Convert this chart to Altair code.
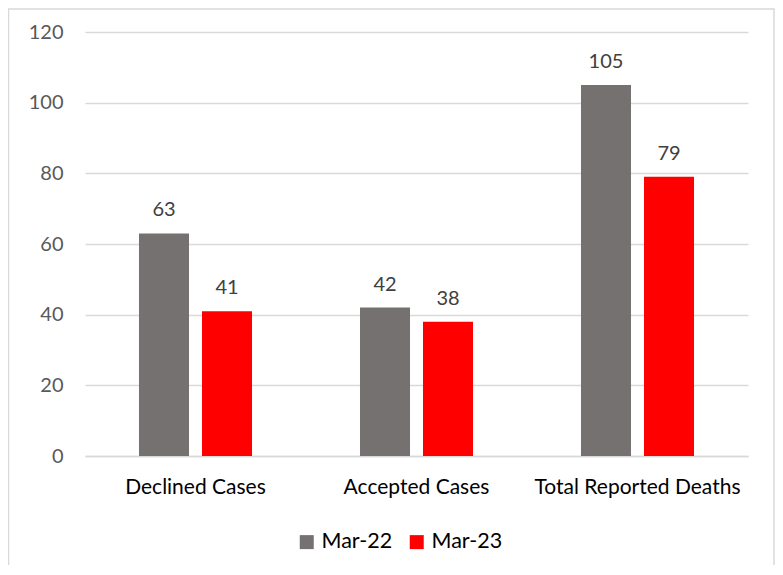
import altair as alt
import pandas as pd

categories = ["Declined Cases", "Accepted Cases", "Total Reported Deaths"]
series = ["Mar-22", "Mar-23"]
values_mar22 = [63, 42, 105]
values_mar23 = [41, 38, 79]
colors = ["#767171", "#FF0000"]

rows = []
for c, a, b in zip(categories, values_mar22, values_mar23):
    rows.append({"category": c, "series": series[0], "value": a})
    rows.append({"category": c, "series": series[1], "value": b})
df = pd.DataFrame(rows)

FONT = "Lato"

x = alt.X("category:N", sort=categories, title=None,
          scale=alt.Scale(paddingInner=0, paddingOuter=0),
          axis=alt.Axis(labelAngle=0, labelFontSize=21, labelColor="#000000",
                        labelFont=FONT, ticks=False, domainColor="#d9d9d9",
                        domainWidth=1.3, labelPadding=20, grid=False, labelLimit=0))
xo = alt.XOffset("series:N", sort=series,
                 scale=alt.Scale(paddingInner=0.206, paddingOuter=0.857))
y = alt.Y("value:Q", title=None,
          scale=alt.Scale(domain=[0, 120], nice=False),
          axis=alt.Axis(values=[0, 20, 40, 60, 80, 100, 120], labelFontSize=20,
                        labelColor="#595959", labelFont=FONT, ticks=False,
                        domain=False, gridColor="#d9d9d9", gridWidth=1.3,
                        labelPadding=22))

base = alt.Chart(df)

bars = base.mark_bar().encode(
    x=x, xOffset=xo, y=y,
    color=alt.Color("series:N", sort=series,
                    scale=alt.Scale(domain=series, range=colors),
                    legend=alt.Legend(title=None, orient="none", direction="horizontal",
                                      legendX=211, legendY=499, symbolType="square",
                                      symbolSize=196, symbolStrokeWidth=0,
                                      labelFontSize=21.5, labelFont=FONT,
                                      labelColor="#000000", columnPadding=13,
                                      padding=0, symbolOffset=0)),
)

labels = base.mark_text(baseline="alphabetic", dy=-17, fontSize=20,
                        font=FONT, color="#404040").encode(
    x=x, xOffset=xo, y=y, text="value:Q"
)

border = alt.Chart(pd.DataFrame({"a": [0]})).mark_rect(
    fill=None, stroke="#d9d9d9", strokeWidth=1.5, clip=False
).encode(x=alt.value(-76.5), x2=alt.value(689), y=alt.value(-23), y2=alt.value(580))

chart = alt.layer(border, bars, labels).properties(
    width=663, height=424,
    autosize=alt.AutoSizeParams(type="none"),
    padding={"left": 77, "top": 24, "right": 27, "bottom": 109},
).configure(background="white", view=alt.ViewConfig(stroke=None))

chart.save("out.html", embed_options={"renderer": "svg", "actions": False})
